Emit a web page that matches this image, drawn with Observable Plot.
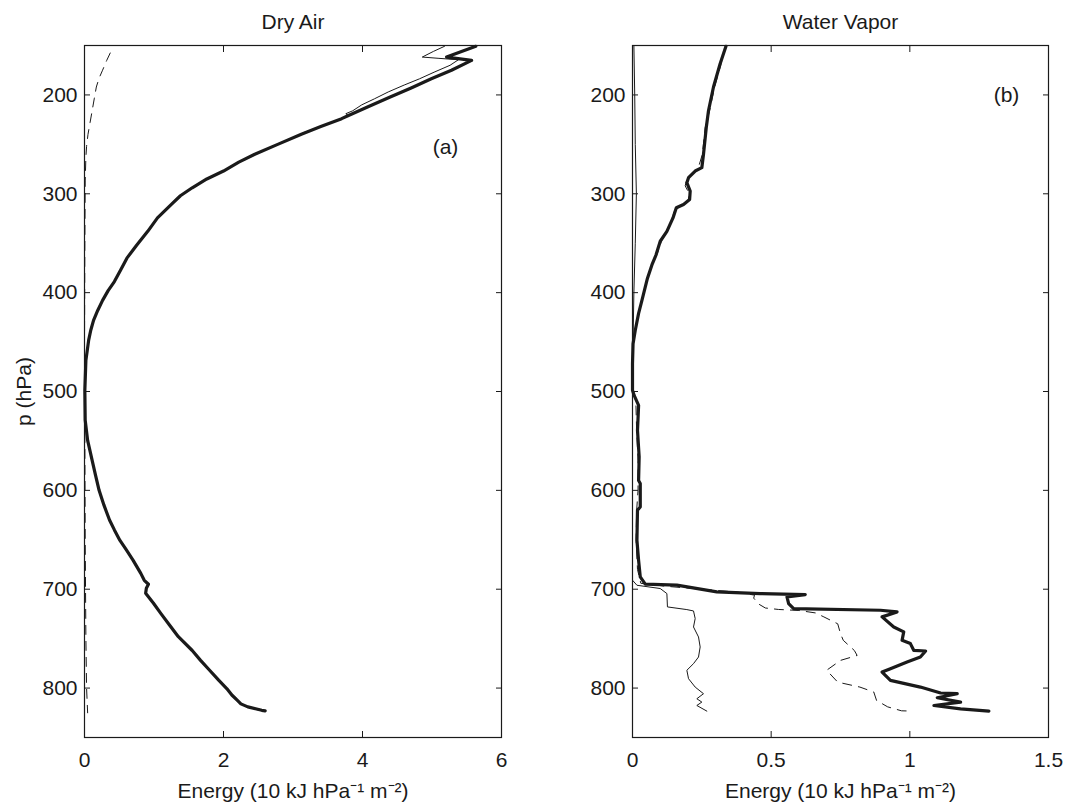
<!DOCTYPE html>
<html><head><meta charset="utf-8">
<script src="https://cdn.jsdelivr.net/npm/d3@7"></script>
<script src="https://cdn.jsdelivr.net/npm/@observablehq/plot@0.6"></script>
<style>
html,body{margin:0;padding:0;background:#fff;}
#wrap{position:relative;width:1066px;height:804px;overflow:hidden;}
#wrap svg{position:absolute;top:0;}
</style></head><body><div id="wrap"></div>
<script>
// Tick values
const pressureTicks = [200, 300, 400, 500, 600, 700, 800];
const dryTicks = [0, 2, 4, 6];
const vaporTicks = [0, 0.5, 1, 1.5];
const panelTitles = ["Dry Air", "Water Vapor"];
const panelTags = ["(a)", "(b)"];
const xLabel = "Energy (10 kJ hPa\u207B\u00B9 m\u207B\u00B2)";
const yLabel = "p (hPa)";

// Dry air: [pressure hPa, energy]
const dryThick = [
  [150.8,5.63],[161.7,5.21],[165.1,5.57],[175,5.28],[183.7,4.99],[193,4.70],[202.4,4.39],[212,4.08],[221.0,3.79],[224,3.70],
  [232,3.40],[239.7,3.12],[250,2.78],[260.0,2.45],[268,2.22],[277.0,2.00],[285,1.76],[293.9,1.55],[302,1.38],[310.8,1.25],
  [324.4,1.05],[338.0,0.91],[352,0.75],[365.1,0.61],[377,0.52],[388.8,0.43],[398,0.34],[407.8,0.26],[418,0.19],[428,0.13],
  [438,0.09],[448,0.06],[468.5,0.02],[498.8,0.005],[529,0.01],[549.4,0.045],[569.6,0.11],[585,0.16],[600,0.21],[615,0.28],
  [630,0.36],[640,0.43],[650.6,0.51],[660,0.60],[670.8,0.70],[684,0.81],[691,0.86],[695,0.92],[699,0.89],[704,0.88],
  [714,0.99],[724.7,1.10],[736,1.22],[748,1.35],[762,1.55],[772,1.67],[782,1.80],[792,1.93],[800.7,2.05],[807,2.12],
  [812.5,2.20],[816,2.25],[819,2.35],[822.5,2.55],[823,2.60]
];
const dryThin = [
  [150.8,5.18],[156,5.02],[161.7,4.86],[163,5.10],[164.4,5.38],[170,5.26],[177,5.03],[183.7,4.82],[190,4.60],[197,4.37],
  [204,4.17],[210,3.99],[216,3.86],[219,3.76],[221,3.80],[224,3.70],[232,3.39],[238,3.16],[240,3.10],[250,2.77],
  [260.0,2.45],[268,2.22],[277.0,2.00],[285,1.76],[293.9,1.55],[302,1.38],[310.8,1.25],[324.4,1.05],[338.0,0.91],[352,0.75],
  [365.1,0.61],[377,0.52],[388.8,0.43],[398,0.34],[407.8,0.26],[418,0.19],[428,0.13],[438,0.09],[448,0.06],[468.5,0.02],
  [498.8,0.005],[529,0.01],[549.4,0.045],[569.6,0.11],[585,0.16],[600,0.21],[615,0.28],[630,0.36],[640,0.43],[650.6,0.51],
  [660,0.60],[670.8,0.70],[684,0.81],[691,0.86],[695,0.92],[699,0.89],[704,0.88],[714,0.99],[724.7,1.10],[736,1.22],
  [748,1.35],[762,1.55],[772,1.67],[782,1.80],[792,1.93],[800.7,2.05],[806,2.10],[809,2.17],[812.5,2.20],[816,2.24],
  [819,2.33],[822.5,2.52],[823,2.58]
];
const dryDashed = [
  [157.6,0.37],[165,0.32],[175,0.26],[183,0.21],[192,0.17],[204,0.14],[216,0.11],[228,0.08],[240,0.05],[252,0.03],
  [263,0.02],[287,0.01],[350,0.005],[450,0.0],[550,0.005],[650,0.01],[700,0.015],[750,0.02],[800,0.03],[825,0.045]
];

// Water vapor: [pressure hPa, energy]
const vaporThick = [
  [150.8,0.337],[168.5,0.316],[192,0.292],[216,0.274],[233,0.266],[260,0.256],[273.6,0.250],[277,0.226],[283.7,0.202],[288.8,0.196],
  [297.3,0.208],[305.8,0.206],[310.8,0.184],[314.2,0.158],[324.4,0.146],[338,0.124],[348,0.100],[361.7,0.085],[372,0.070],[385.4,0.054],
  [407.8,0.034],[421,0.022],[438,0.010],[451.6,0.002],[472,0.0],[498.8,0.0],[504,0.006],[514,0.022],[539.3,0.018],[566,0.024],
  [590,0.022],[593,0.028],[616.8,0.028],[620,0.018],[650.6,0.016],[670.8,0.022],[687.5,0.028],[694.9,0.046],[695.9,0.160],[702.7,0.304],
  [704.4,0.461],[705.4,0.623],[707.8,0.557],[714.5,0.563],[719.6,0.581],[721.3,0.894],[723,0.954],[728,0.900],[738.2,0.942],[743.2,0.978],
  [751.7,0.972],[755,1.002],[761.8,1.014],[762.5,1.057],[768.6,1.038],[773.6,0.990],[780.4,0.930],[783.8,0.900],[792.2,0.930],[799,1.038],
  [805,1.111],[805.7,1.171],[809.8,1.099],[814.2,1.183],[817.6,1.087],[821,1.183],[823.3,1.285]
];
const vaporThin = [
  [150,0.005],[200,0.008],[250,0.010],[300,0.014],[350,0.010],[400,0.005],[450,0.002],[500,0.0],[600,0.0],[690.9,0.0],
  [696,0.016],[699.3,0.100],[704.4,0.124],[717.9,0.126],[720.6,0.196],[722,0.220],[729.7,0.226],[738.2,0.220],[748.3,0.238],[758.4,0.244],
  [768.6,0.238],[775.3,0.220],[782,0.196],[790.5,0.202],[799,0.226],[805.7,0.256],[810.8,0.232],[814.2,0.250],[817.6,0.232],[823.3,0.268]
];
const vaporDashed = [
  [150.8,0.335],[170,0.318],[192,0.296],[216,0.278],[233,0.262],[260,0.252],[275,0.236],[285,0.196],[292,0.190],[300,0.205],
  [308,0.200],[313,0.170],[318,0.150],[330,0.138],[345,0.108],[360,0.090],[375,0.066],[390,0.050],[410,0.031],[430,0.015],
  [450,0.004],[470,0.0],[500,0.0],[510,0.012],[540,0.015],[570,0.020],[600,0.020],[620,0.015],[650,0.013],[680,0.018],
  [694,0.030],[697,0.12],[700,0.25],[703,0.38],[706,0.44],[709,0.437],[712,0.446],[715,0.455],[719,0.479],[720.5,0.527],
  [721.5,0.60],[724,0.66],[728,0.69],[735,0.74],[745,0.75],[751.7,0.76],[762,0.80],[767,0.81],[772,0.75],[782,0.70],
  [794,0.74],[799,0.82],[804,0.87],[812.5,0.88],[819,0.92],[823,0.97],[823.3,1.01]
];

const rows = (arr) => arr.map(([p, e]) => ({p, e}));
const FONT = "'Liberation Sans', Arial, Helvetica, sans-serif";
const INK = "#1a1a1a";

function panel(o) {
  return Plot.plot({
    width: o.width, height: 804,
    marginLeft: o.marginLeft, marginRight: o.marginRight, marginTop: 45, marginBottom: 67,
    style: {fontFamily: FONT, fontSize: "21px", color: INK, background: "#fff", overflow: "visible"},
    x: {domain: o.domainX},
    y: {domain: [150, 850], reverse: true},
    marks: [
      Plot.line(rows(o.dashed), {x: "e", y: "p", stroke: INK, strokeWidth: 1, strokeDasharray: "9,7"}),
      Plot.line(rows(o.thin), {x: "e", y: "p", stroke: INK, strokeWidth: 1}),
      Plot.line(rows(o.thick), {x: "e", y: "p", stroke: INK, strokeWidth: 3.2, strokeLinejoin: "round"}),
      Plot.frame({stroke: INK, strokeWidth: 1.2}),
      Plot.axisX(o.ticks, {anchor: "bottom", tickSize: 0, tickPadding: 15, tickFormat: d => String(d),
        label: xLabel, labelAnchor: "center", labelArrow: "none", labelOffset: 60}),
      Plot.axisX(o.ticks, {anchor: "bottom", tickSize: -6, tickFormat: () => "", label: null, stroke: INK}),
      Plot.axisX(o.ticks, {anchor: "top", tickSize: -6, tickFormat: () => "", stroke: INK,
        label: o.title, labelAnchor: "center", labelArrow: "none", labelOffset: 31}),
      Plot.axisY(pressureTicks, {anchor: "left", tickSize: 0, tickPadding: 7, tickFormat: d => String(d),
        label: o.yLabel, labelAnchor: "center", labelArrow: "none", labelOffset: 68}),
      Plot.axisY(pressureTicks, {anchor: "left", tickSize: -6, tickFormat: () => "", label: null, stroke: INK}),
      Plot.axisY(pressureTicks, {anchor: "right", tickSize: -6, tickFormat: () => "", label: null, stroke: INK}),
      Plot.text([o.tag], {frameAnchor: "top-right", dx: o.tagDx, dy: o.tagDy, text: d => d,
        textAnchor: "middle", lineAnchor: "middle", fill: INK})
    ]
  });
}

const wrap = document.getElementById("wrap");
const left = panel({width: 560, marginLeft: 84, marginRight: 59, domainX: [0, 6], ticks: dryTicks,
  title: panelTitles[0], yLabel: yLabel, thick: dryThick, thin: dryThin, dashed: dryDashed,
  tag: panelTags[0], tagDx: -56, tagDy: 102});
left.style.left = "0px";
const right = panel({width: 506, marginLeft: 72, marginRight: 18, domainX: [0, 1.5], ticks: vaporTicks,
  title: panelTitles[1], yLabel: null, thick: vaporThick, thin: vaporThin, dashed: vaporDashed,
  tag: panelTags[1], tagDx: -42, tagDy: 50});
right.style.left = "560px";
wrap.appendChild(left);
wrap.appendChild(right);
</script>
</body></html>
